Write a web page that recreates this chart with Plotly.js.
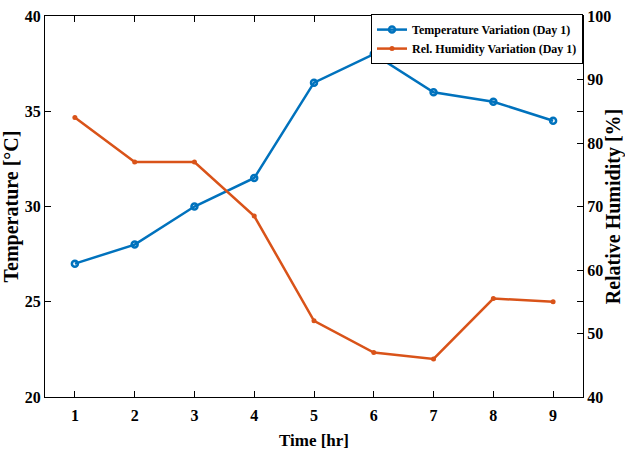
<!DOCTYPE html>
<html>
<head>
<meta charset="utf-8">
<script src="https://cdn.plot.ly/plotly-3.0.1.min.js"></script>
<style>html,body{margin:0;padding:0;background:#fff;}#chart{width:625px;height:451px;}</style>
</head>
<body>
<div id="chart"></div>
<script>
const hours = [1, 2, 3, 4, 5, 6, 7, 8, 9];
const temperature = [27, 28, 30, 31.5, 36.5, 38, 36, 35.5, 34.5];
const humidity = [84, 77, 77, 68.5, 52, 47, 46, 55.5, 55];
const tempTicks = [20, 25, 30, 35, 40];
const humTicks = [40, 50, 60, 70, 80, 90, 100];

const FONT = 'Liberation Serif, Times New Roman, serif';
const blue = '#0072BD', orange = '#D95319';

const traces = [
  {x: hours, y: temperature, name: 'Temperature Variation (Day 1)', type: 'scatter', mode: 'lines+markers',
   line: {color: blue, width: 2.5}, marker: {color: blue, size: 6, symbol: 'circle-open', line: {color: blue, width: 2.5}}, yaxis: 'y'},
  {x: hours, y: humidity, name: 'Rel. Humidity Variation (Day 1)', type: 'scatter', mode: 'lines+markers',
   line: {color: orange, width: 2.5}, marker: {color: orange, size: 5, symbol: 'circle'}, yaxis: 'y2'}
];

const axisCommon = {
  showline: true, linecolor: '#000', linewidth: 1, ticks: 'inside', ticklen: 6, tickcolor: '#000',
  showgrid: false, zeroline: false, tickfont: {family: FONT, size: 16, color: '#000', weight: 'bold'}
};

const layout = {
  width: 625, height: 451,
  margin: {l: 45, r: 42, t: 16, b: 54},
  paper_bgcolor: '#fff', plot_bgcolor: '#fff',
  font: {family: FONT, color: '#000'},
  showlegend: true,
  legend: {x: 1, xanchor: 'right', y: 1.005, yanchor: 'top', bgcolor: '#fff', bordercolor: '#000', borderwidth: 1,
    font: {family: FONT, size: 12, color: '#000', weight: 'bold'}, tracegroupgap: 0, itemwidth: 30},
  xaxis: Object.assign({}, axisCommon, {
    range: [0.5, 9.5], tickvals: hours, ticktext: hours.map(String), mirror: 'ticks', ticklabelstandoff: 4,
    title: {text: 'Time [hr]', font: {family: FONT, size: 17, color: '#000', weight: 'bold'}, standoff: 10}
  }),
  yaxis: Object.assign({}, axisCommon, {
    range: [20, 40], tickvals: tempTicks, mirror: 'ticks',
    title: {text: 'Temperature [°C]', font: {family: FONT, size: 20, color: '#000', weight: 'bold'}, standoff: 2}
  }),
  yaxis2: Object.assign({}, axisCommon, {
    range: [40, 100], tickvals: humTicks, overlaying: 'y', side: 'right',
    title: {text: 'Relative Humidity [%]', font: {family: FONT, size: 20, color: '#000', weight: 'bold'}, standoff: 6}
  })
};

Plotly.newPlot('chart', traces, layout, {displayModeBar: false, responsive: false});
</script>
</body>
</html>
